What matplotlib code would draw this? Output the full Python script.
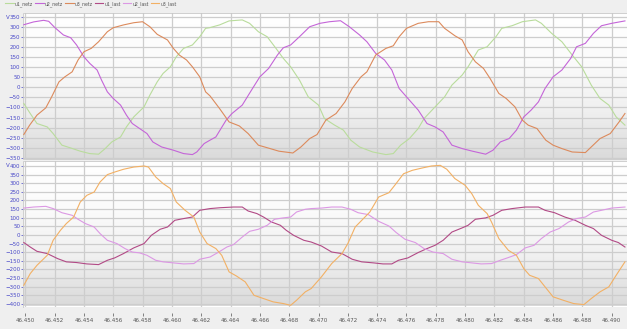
import numpy as np
import matplotlib
matplotlib.use("Agg")
from matplotlib import pyplot as plt
from matplotlib.colors import LinearSegmentedColormap

# time offsets in ms after 46.450 s, voltages in V
t_u1_netz = [-0.1, 0.34, 0.8, 1.5, 1.9, 2.5, 3.1, 3.75, 4.4, 5.0, 5.45, 5.9, 6.5, 6.9, 7.4, 8.1, 8.5, 9.0, 9.4, 9.9, 10.3, 10.8, 11.4, 11.9, 12.3, 12.57,
             13.25, 13.9, 14.8, 15.3, 15.9, 16.5, 17.1, 17.6, 18.1, 18.7, 19.3, 20.0, 20.4, 21.1, 21.7, 22.2, 22.8, 23.7, 24.6, 25.1, 25.6, 26.2, 26.8,
             27.2, 27.95, 28.6, 29.1, 29.8, 30.2, 30.9, 31.5, 32.1, 32.5, 33.2, 33.9, 34.8, 35.2, 35.9, 36.6, 37.3, 37.95, 38.6, 39.2, 39.8, 40.3, 40.9]
v_u1_netz = [-80, -130, -180, -197, -230, -288, -302, -318, -330, -333, -305, -272, -247, -197, -147, -97, -38, 28, 70, 103, 153, 195, 212, 253, 295, 298,
             312, 332, 337, 320, 278, 253, 195, 145, 103, 37, -47, -88, -155, -188, -213, -263, -297, -322, -335, -330, -288, -255, -205,
             -155, -97, -47, 12, 62, 103, 187, 203, 253, 295, 308, 328, 337, 320, 270, 228, 162, 103, 12, -55, -88, -147, -188]

t_u2_netz = [-0.1, 0.57, 1.25, 1.6, 2.0, 2.6, 3.1, 3.5, 4.0, 4.4, 4.9, 5.2, 5.6, 6.0, 6.5, 6.9, 7.3, 7.8, 8.3, 8.7, 9.3, 10.1, 10.8, 11.4, 11.7, 12.2, 12.6,
             13.0, 13.7, 14.1, 14.8, 15.5, 16.0, 16.6, 17.2, 17.6, 18.1, 18.7, 19.4, 20.1, 20.75, 21.5, 22.1, 22.8, 23.3, 23.9, 24.5, 25.0, 25.5, 26.1, 26.8,
             27.4, 27.95, 28.5, 29.1, 29.8, 30.5, 31.4, 31.9, 32.4, 33.0, 33.5, 34.0, 34.5, 35.0, 35.45, 36.0, 36.6, 37.2, 37.6, 38.2, 38.75, 39.3, 40.0, 40.9]
v_u2_netz = [313, 327, 335, 330, 300, 262, 248, 212, 153, 120, 87, 37, -22, -55, -88, -138, -180, -205, -230, -272, -297, -313, -330, -335, -322, -280, -263,
             -247, -163, -130, -88, -5, 53, 95, 162, 198, 212, 253, 303, 320, 328, 333, 303, 262, 228, 170, 137, 87, -5, -55, -113,
             -180, -197, -222, -288, -305, -318, -333, -313, -272, -255, -213, -147, -113, -72, -5, 53, 87, 145, 203, 220, 270, 308, 320, 332]

t_u3_netz = [-0.1, 0.3, 0.8, 1.4, 1.8, 2.3, 2.7, 3.2, 3.6, 4.0, 4.5, 5.0, 5.6, 6.0, 6.7, 7.4, 8.0, 8.5, 9.0, 9.7, 10.1, 10.5, 11.0, 11.4, 11.9, 12.3, 12.6,
             13.25, 13.9, 14.6, 15.2, 15.9, 16.7, 17.3, 18.25, 18.8, 19.4, 19.9, 20.5, 21.2, 21.8, 22.3, 22.9, 23.3, 23.9, 24.6, 25.1, 25.5, 26.0, 26.8,
             27.5, 28.2, 28.6, 29.3, 29.8, 30.2, 30.7, 31.25, 31.7, 32.3, 32.8, 33.4, 33.9, 34.3, 34.9, 35.5, 36.0, 36.6, 37.3, 38.2, 38.6, 39.2, 39.9, 40.5, 40.9]
v_u3_netz = [-235, -188, -138, -102, -47, 28, 53, 78, 137, 178, 195, 228, 278, 298, 312, 323, 328, 303, 265, 237, 195, 162, 137, 103, 53, -22, -42,
             -105, -172, -192, -230, -288, -305, -318, -327, -297, -255, -235, -163, -130, -72, -5, 53, 78, 162, 195, 208, 253, 295, 320,
             328, 328, 295, 258, 237, 178, 128, 95, 45, -30, -55, -97, -163, -188, -205, -263, -288, -305, -322, -325, -297, -255, -230, -172, -130]

t_u1_last = [-0.1, 0.34, 0.8, 1.5, 2.2, 2.8, 3.5, 4.2, 5.0, 5.6, 6.1, 6.7, 7.4, 8.1, 8.6, 9.2, 9.7, 10.2, 10.8, 11.4, 11.9, 12.6, 13.3, 14.2, 14.8, 15.2, 15.8,
             16.25, 16.8, 17.4, 17.8, 18.3, 19.0, 19.5, 20.2, 20.9, 21.6, 22.3, 22.95, 23.75, 24.4, 25.0, 25.45, 26.1, 26.8, 27.4, 27.95, 28.5, 29.1, 29.8,
             30.2, 30.7, 31.4, 31.9, 32.5, 33.2, 34.1, 35.0, 35.45, 36.1, 36.8, 37.5, 38.2, 38.75, 39.3, 40.0, 40.45, 40.9]
v_u1_last = [-44, -70, -95, -108, -137, -156, -160, -168, -172, -147, -133, -108, -75, -50, -2, 33, 46, 85, 95, 104, 143, 153, 158, 162, 162, 139, 124,
             104, 75, 56, 27, -2, -31, -41, -64, -99, -108, -141, -156, -162, -168, -168, -147, -133, -102, -79, -60, -31, 17, 41,
             56, 91, 99, 114, 143, 153, 162, 162, 143, 129, 104, 85, 56, 37, -2, -31, -44, -70]

t_u2_last = [-0.1, 0.57, 1.4, 1.9, 2.5, 3.2, 3.6, 4.1, 4.7, 5.1, 5.6, 6.25, 6.8, 7.3, 7.8, 8.3, 8.9, 9.4, 10.1, 10.8, 11.5, 11.9, 12.6, 13.2, 13.75, 14.2,
             14.8, 15.3, 15.9, 16.5, 17.0, 17.6, 18.1, 18.5, 19.1, 19.5, 20.2, 20.9, 21.6, 22.2, 22.7, 23.4, 24.1, 24.8, 25.3, 25.9, 26.6, 27.2, 27.8, 28.5,
             29.1, 29.8, 30.45, 31.1, 31.8, 32.4, 32.95, 33.5, 34.1, 34.7, 35.2, 35.8, 36.4, 37.05, 37.6, 38.2, 38.75, 39.3, 40.0, 40.9]
v_u2_last = [156, 162, 166, 153, 129, 114, 91, 66, 46, 8, -31, -50, -79, -99, -104, -118, -147, -156, -162, -168, -166, -141, -128, -99, -70, -56,
             -12, 21, 33, 56, 91, 99, 104, 133, 149, 153, 156, 162, 162, 149, 129, 118, 79, 52, 14, -25, -44, -79, -99, -108,
             -141, -156, -162, -168, -166, -147, -131, -114, -75, -60, -21, 17, 37, 75, 95, 104, 133, 143, 156, 162]

t_u3_last = [-0.1, 0.34, 0.8, 1.5, 1.9, 2.4, 2.8, 3.3, 3.75, 4.2, 4.7, 5.1, 5.6, 6.1, 6.7, 7.4, 8.1, 8.4, 8.9, 9.4, 9.9, 10.3, 10.9, 11.5, 11.9, 12.4, 13.0,
             13.4, 13.9, 14.4, 15.0, 15.6, 16.25, 16.9, 17.6, 18.1, 18.5, 19.1, 19.5, 20.2, 20.9, 21.6, 22.0, 22.5, 22.95, 23.5, 24.1, 24.8, 25.2, 25.8,
             26.4, 27.05, 27.7, 28.3, 28.75, 29.3, 30.0, 30.45, 30.9, 31.5, 31.8, 32.3, 32.95, 33.5, 34.0, 34.4, 35.0, 35.45, 36.0, 36.7, 37.4, 38.1, 38.6,
             39.2, 39.8, 40.3, 40.9]
v_u3_last = [-292, -224, -176, -118, -31, 27, 66, 104, 191, 230, 249, 307, 350, 365, 381, 394, 400, 394, 336, 298, 269, 191, 143, 104, 17, -50, -79,
             -118, -214, -238, -272, -350, -369, -388, -398, -408, -379, -330, -311, -243, -166, -108, -50, 46, 85, 133, 220, 245, 288, 355,
             375, 388, 400, 404, 381, 327, 288, 240, 172, 124, 75, -21, -89, -118, -195, -234, -253, -301, -359, -379, -398, -404, -369,
             -330, -301, -234, -156]

top_series = [("u1_netz", t_u1_netz, v_u1_netz, "#b9dc9c"),
              ("u2_netz", t_u2_netz, v_u2_netz, "#c465d8"),
              ("u3_netz", t_u3_netz, v_u3_netz, "#dc8a5c")]
bottom_series = [("u1_last", t_u1_last, v_u1_last, "#b24a86"),
                 ("u2_last", t_u2_last, v_u2_last, "#dc98e4"),
                 ("u3_last", t_u3_last, v_u3_last, "#f2b064")]

x_ticks = [46.450 + 0.002 * i for i in range(21)]
x_start = 46.450

fig = plt.figure(figsize=(6.27, 3.29), dpi=100, facecolor="#efefef")
ax_top = fig.add_axes([23.5 / 627, 170 / 329, 1 - 23.5 / 627, 146.5 / 329])
ax_bot = fig.add_axes([23.5 / 627, 22.5 / 329, 1 - 23.5 / 627, 145.5 / 329])

grad = LinearSegmentedColormap.from_list("bg", ["#dadada", "#f0f0f0", "#fbfbfb", "#ffffff"])

def style(ax, ylim, yticks):
    ax.set_autoscale_on(False)
    ax.imshow(np.linspace(0, 1, 256).reshape(-1, 1), cmap=grad, origin="lower",
              extent=[0, 1, 0, 1], transform=ax.transAxes, aspect="auto", zorder=0)
    ax.set_xlim(46.44988, 46.49104)
    ax.set_ylim(*ylim)
    ax.set_yticks(yticks)
    ax.set_xticks(x_ticks)
    ax.grid(True, color="#cdcdcd", linewidth=0.9, zorder=1)
    ax.set_axisbelow(True)
    for side in ["top", "right", "left", "bottom"]:
        ax.spines[side].set_color("#c8c8c8")
        ax.spines[side].set_linewidth(0.6)
    ax.tick_params(axis="y", labelsize=4.0, labelcolor="#4848c8", color="#4848c8",
                   length=1.5, width=0.5, pad=0.8)
    ax.text(-0.0255, yticks[-1], "V", transform=ax.get_yaxis_transform(),
            fontsize=4.0, color="#4848c8", ha="center", va="center")

style(ax_top, (-357, 374), list(range(-350, 351, 50)))
style(ax_bot, (-415, 429), list(range(-400, 401, 50)))

ax_top.tick_params(axis="x", bottom=False, labelbottom=False)
ax_bot.tick_params(axis="x", labelsize=4.0, labelcolor="#555555", color="#555555",
                   length=2, width=0.5, pad=1.5)
ax_bot.set_xticklabels(["%.3f" % v for v in x_ticks])
ax_bot.spines["bottom"].set_position(("outward", 5))
ax_bot.spines["bottom"].set_visible(False)

handles = []
for name, t, v, c in top_series:
    h, = ax_top.plot([x_start + s / 1000 for s in t], v, color=c, linewidth=0.8, label=name, zorder=3)
    handles.append(h)
for name, t, v, c in bottom_series:
    h, = ax_bot.plot([x_start + s / 1000 for s in t], v, color=c, linewidth=0.8, label=name, zorder=3)
    handles.append(h)

fig.legend(handles=handles, loc="upper left", bbox_to_anchor=(0.002, 1.01), ncol=6,
           fontsize=3.3, frameon=False, handlelength=1.8, handletextpad=0.3,
           columnspacing=0.45, labelcolor="#555555")

fig.savefig("out.png", dpi=100, facecolor=fig.get_facecolor())
